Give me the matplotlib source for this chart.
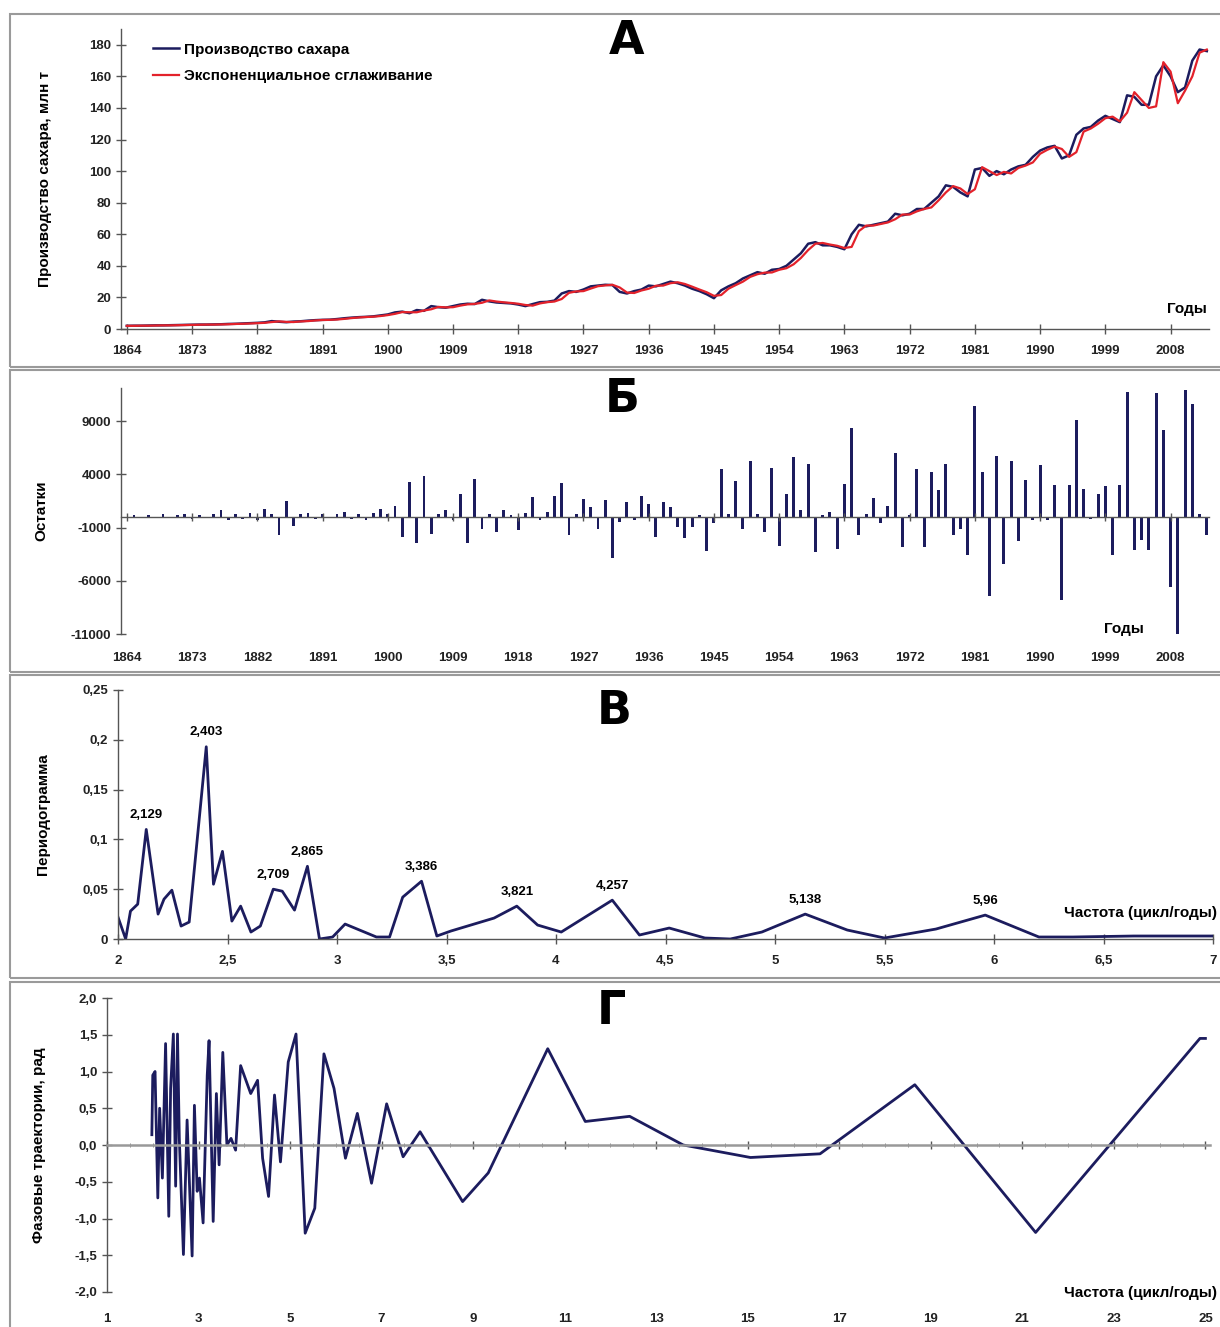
import matplotlib
matplotlib.use("Agg")
import matplotlib.pyplot as plt
from matplotlib.ticker import FixedLocator, MultipleLocator

plt.rcParams['font.family'] = ['Liberation Sans', 'DejaVu Sans']
plt.rcParams['font.weight'] = 'bold'

W, H = 1220, 1327

# ---- data -------------------------------------------------------------
years = list(range(1864, 2014))

production = [
    2.0, 2.1, 2.1, 2.2, 2.3, 2.3, 2.4, 2.5, 2.6, 2.7,
    2.8, 2.8, 2.9, 3.0, 3.2, 3.3, 3.5, 3.7, 3.9, 4.2,
    5.0, 4.6, 4.3, 4.7, 4.9, 5.3, 5.6, 5.8, 5.9, 6.3,
    6.8, 7.2, 7.5, 7.7, 8.0, 8.6, 9.2, 10.5, 11.0, 10.0,
    12.0, 11.5, 14.5, 13.8, 13.5, 14.5, 15.5, 16.0, 15.8, 18.5,
    17.5, 16.8, 16.5, 16.2, 15.5, 14.5, 15.8, 17.0, 17.2, 18.0,
    22.5, 24.0, 23.5, 25.0, 27.0, 27.5, 28.0, 27.8, 23.5, 22.5,
    24.0, 25.0, 27.5, 27.0, 28.5, 30.0, 29.0, 27.5, 25.5, 24.0,
    22.0, 19.5, 24.5, 27.0, 29.0, 32.0, 34.0, 36.0, 35.0, 37.5,
    38.0, 40.0, 44.0, 48.0, 54.0, 55.0, 53.0, 53.0, 52.0, 50.5,
    60.0, 66.0, 65.0, 66.0, 67.0, 68.0, 73.0, 72.0, 73.0, 76.0,
    76.0, 80.0, 84.0, 91.0, 90.0, 86.5, 84.0, 101.0, 102.0, 97.0,
    100.0, 98.0, 101.0, 103.0, 104.0, 109.0, 113.0, 115.0, 116.0, 108.0,
    110.0, 123.0, 127.0, 128.0, 132.0, 135.0, 133.0, 131.0, 148.0, 147.0,
    142.0, 142.0, 160.0, 167.0, 160.0, 150.0, 153.0, 170.0, 177.0, 176.0,
]

smoothed = [
    2.0, 2.0, 2.1, 2.1, 2.2, 2.3, 2.3, 2.4, 2.5, 2.6,
    2.7, 2.8, 2.8, 2.9, 3.0, 3.2, 3.3, 3.5, 3.7, 3.9,
    4.4, 4.8, 4.5, 4.4, 4.8, 5.0, 5.4, 5.7, 5.8, 6.0,
    6.4, 6.9, 7.3, 7.6, 7.8, 8.2, 8.8, 9.6, 10.7, 10.6,
    10.6, 11.7, 12.5, 14.0, 13.7, 13.8, 14.8, 15.6, 15.9, 16.6,
    18.1, 17.4, 16.9, 16.5, 16.0, 15.2, 14.8, 16.2, 17.0, 17.4,
    19.0, 22.9, 23.8, 24.0, 25.6, 27.1, 27.6, 28.0, 26.3, 23.1,
    22.8, 24.4, 25.5, 27.4, 27.5, 29.0, 29.6, 28.5, 26.8, 25.0,
    23.3, 21.0, 21.5, 25.5, 27.8, 30.0, 33.0, 34.7, 35.7, 35.8,
    37.5, 38.5, 41.0, 45.0, 50.0, 54.0, 54.5, 53.5, 52.7, 51.3,
    52.0, 62.0, 65.5, 65.5, 66.5, 67.5, 69.5, 72.5, 72.5, 74.5,
    76.0, 77.0, 81.5, 86.5, 90.5, 89.0, 85.5, 88.5, 102.5, 100.0,
    97.5, 99.5, 98.5, 102.0, 103.5, 105.5, 111.0, 113.5, 115.5, 114.0,
    109.0, 112.0, 125.0, 127.0, 130.0, 133.5, 134.5, 131.5, 137.0, 150.0,
    145.0, 140.0, 141.0, 169.0, 163.0, 143.0, 151.0, 160.0, 175.0, 177.0,
]

residuals = [
    0, 150, -100, 200, -150, 250, -100, 150, 300, -200,
    200, -150, 250, 600, -250, 300, -200, 400, -300, 700,
    300, -1700, 1500, -900, 300, 400, -200, 300, -150, 250,
    500, -200, 300, -250, 400, 700, 300, 1000, -1900, 3250,
    -2500, 3800, -1600, 300, 600, -300, 2150, -2500, 3600, -1100,
    300, -1400, 600, 200, -1250, 400, 1850, -300, 500, 2000,
    3150, -1700, 300, 1700, 900, -1100, 1600, -3900, -500, 1400,
    -300, 2000, 1250, -1850, 1400, 900, -950, -2000, -950, 200,
    -3200, -600, 4500, 300, 3350, -1100, 5200, 300, -1400, 4600,
    -2700, 2150, 5600, 600, 5000, -3300, 200, 450, -3000, 3100,
    8350, -1700, 300, 1800, -600, 1000, 6000, -2850, 200, 4500,
    -2850, 4200, 2500, 5000, -1700, -1100, -3600, 10400, 4200, -7400,
    5750, -4400, 5200, -2300, 3450, -300, 4850, -300, 2950, -7850,
    2950, 9100, 2600, -200, 2150, 2900, -3600, 2950, 11700, -3150,
    -2200, -3150, 11600, 8150, -6600, -11100, 11900, 10600, 300, -1700,
]

freq = [2.0, 2.035, 2.057, 2.09, 2.129, 2.183, 2.21, 2.246, 2.288, 2.325,
        2.403, 2.436, 2.477, 2.52, 2.56, 2.607, 2.65, 2.709, 2.75, 2.806,
        2.865, 2.92, 2.98, 3.037, 3.18, 3.24, 3.30, 3.386, 3.456, 3.52,
        3.717, 3.821, 3.916, 4.024, 4.257, 4.381, 4.517, 4.68, 4.796, 4.94,
        5.138, 5.33, 5.50, 5.735, 5.96, 6.205, 6.36, 6.638, 7.0]
periodogram = [0.022, 0.0, 0.028, 0.035, 0.110, 0.025, 0.040, 0.049, 0.013, 0.017,
               0.193, 0.055, 0.088, 0.018, 0.033, 0.007, 0.013, 0.050, 0.048, 0.029,
               0.073, 0.0, 0.002, 0.015, 0.002, 0.002, 0.042, 0.058, 0.003, 0.008,
               0.021, 0.033, 0.014, 0.007, 0.039, 0.004, 0.011, 0.001, 0.0, 0.007,
               0.025, 0.009, 0.001, 0.010, 0.024, 0.002, 0.002, 0.003, 0.003]
peak_freqs = [2.129, 2.403, 2.709, 2.865, 3.386, 3.821, 4.257, 5.138, 5.96]

phase_x = [1.98, 2.0, 2.05, 2.11, 2.15, 2.21, 2.28, 2.35, 2.39, 2.45,
           2.50, 2.54, 2.58, 2.67, 2.75, 2.86, 2.91, 2.97, 3.02, 3.10,
           3.19, 3.23, 3.32, 3.39, 3.45, 3.53, 3.62, 3.71, 3.81, 3.92,
           4.14, 4.29, 4.40, 4.53, 4.66, 4.79, 4.96, 5.13, 5.33, 5.54,
           5.74, 5.96, 6.21, 6.47, 6.78, 7.11, 7.47, 7.84, 8.77, 9.33,
           10.63, 11.45, 12.42, 13.59, 15.06, 16.58, 18.65, 21.29, 24.88, 25.0]
phase_y = [0.14, 0.95, 1.0, -0.72, 0.5, -0.45, 1.38, -0.97, 0.77, 1.51,
           -0.56, 1.51, 0.09, -1.49, 0.34, -1.51, 0.54, -0.63, -0.45, -1.06,
           0.95, 1.42, -1.04, 0.7, -0.27, 1.26, 0.0, 0.09, -0.07, 1.08,
           0.7, 0.88, -0.18, -0.7, 0.68, -0.23, 1.13, 1.51, -1.2, -0.86,
           1.24, 0.77, -0.18, 0.43, -0.52, 0.56, -0.16, 0.18, -0.77, -0.38,
           1.31, 0.32, 0.39, 0.0, -0.17, -0.12, 0.82, -1.19, 1.45, 1.45]

year_ticks = list(range(1864, 2009, 9))
freq_ticks = [2, 2.5, 3, 3.5, 4, 4.5, 5, 5.5, 6, 6.5, 7]
phase_ticks = list(range(1, 26, 2))

NAVY = '#1c1c5e'
RED = '#e3222b'
TICK_FS = 9.5
LABEL_FS = 11


def comma(v):
    return f"{v:g}".replace('.', ',')


def px_axes(x0, y_top, x1, y_bot):
    return [x0 / W, 1 - y_bot / H, (x1 - x0) / W, (y_bot - y_top) / H]


def style(ax):
    for s in ('top', 'right'):
        ax.spines[s].set_visible(False)
    for s in ('left', 'bottom'):
        ax.spines[s].set_color('#555555')
        ax.spines[s].set_linewidth(1.0)
    ax.tick_params(direction='inout', length=7, width=1, color='#555555',
                   labelsize=TICK_FS, labelcolor='#222222')
    for lab in ax.get_xticklabels() + ax.get_yticklabels():
        lab.set_fontweight('bold')


fig = plt.figure(figsize=(W / 100, H / 100), dpi=100)

# panel frames
for y0, y1 in [(14, 367), (370, 672), (675, 978), (982, 1330)]:
    fig.add_artist(plt.Rectangle((10 / W, 1 - y1 / H), 1.2, (y1 - y0) / H,
                                 transform=fig.transFigure, fill=False,
                                 ec='#9a9a9a', lw=1.5))

# ---- A ---------------------------------------------------------------
ax1 = fig.add_axes(px_axes(121, 29, 1209, 329))
ax1.plot(years, production, color=NAVY, lw=1.8, label='Производство сахара')
ax1.plot(years, smoothed, color=RED, lw=1.6, label='Экспоненциальное сглаживание')
ax1.set_xlim(1863.2, 2013.3)
ax1.set_ylim(0, 190)
ax1.set_xticks(year_ticks)
ax1.set_yticks(range(0, 181, 20))
style(ax1)
ax1.tick_params(axis='x', pad=8)
ax1.set_ylabel('Производство сахара, млн т', fontsize=LABEL_FS, fontweight='bold')
ax1.yaxis.set_label_coords(-0.063, 0.5)
ax1.legend(loc='upper left', bbox_to_anchor=(0.017, 1.0), frameon=False,
           handlelength=1.7, handletextpad=0.3, labelspacing=0.8,
           prop={'size': LABEL_FS, 'weight': 'bold'})
ax1.text(0.998, 0.065, 'Годы', transform=ax1.transAxes, ha='right', va='center',
         fontsize=LABEL_FS, fontweight='bold')

# ---- Б ---------------------------------------------------------------
ax2 = fig.add_axes(px_axes(121, 388, 1209, 634))
ax2.bar(years, residuals, width=0.4, color=NAVY)
ax2.set_xlim(1863.2, 2013.3)
ax2.set_ylim(-11000, 12100)
yt2 = [-11000, -6000, -1000, 4000, 9000]
ax2.yaxis.set_major_locator(FixedLocator(yt2))
ax2.set_yticklabels([str(v) for v in yt2])
ax2.spines['bottom'].set_position(('data', 0))
ax2.set_xticks(year_ticks)
style(ax2)
ax2.tick_params(axis='x', labelbottom=False, length=6)
sec2 = ax2.secondary_xaxis('bottom')
sec2.set_xticks(year_ticks)
sec2.spines['bottom'].set_visible(False)
sec2.tick_params(length=0, pad=13, labelsize=TICK_FS, labelcolor='#222222')
for lab in sec2.get_xticklabels():
    lab.set_fontweight('bold')
ax2.set_ylabel('Остатки', fontsize=LABEL_FS, fontweight='bold')
ax2.yaxis.set_label_coords(-0.067, 0.5)
ax2.text(0.94, 0.02, 'Годы', transform=ax2.transAxes, ha='right', va='center',
         fontsize=LABEL_FS, fontweight='bold')

# ---- В ---------------------------------------------------------------
ax3 = fig.add_axes(px_axes(118, 690, 1213, 939))
ax3.plot(freq, periodogram, color=NAVY, lw=2)
ax3.set_xlim(2, 7)
ax3.set_ylim(0, 0.25)
ax3.set_xticks(freq_ticks)
ax3.set_xticklabels([comma(v) for v in freq_ticks])
yt3 = [0, 0.05, 0.1, 0.15, 0.2, 0.25]
ax3.set_yticks(yt3)
ax3.set_yticklabels([comma(v) for v in yt3])
style(ax3)
ax3.tick_params(axis='x', pad=8)
for pf in peak_freqs:
    i = freq.index(pf)
    ax3.annotate(comma(pf), (freq[i], periodogram[i]), xytext=(0, 6),
                 textcoords='offset points', ha='center', va='bottom',
                 fontsize=9.5, fontweight='bold')
ax3.set_ylabel('Периодограмма', fontsize=LABEL_FS, fontweight='bold')
ax3.yaxis.set_label_coords(-0.062, 0.5)
fig.text(1217 / W, 1 - 913 / H, 'Частота (цикл/годы)', ha='right', va='center',
         fontsize=LABEL_FS, fontweight='bold')

# ---- Г ---------------------------------------------------------------
ax4 = fig.add_axes(px_axes(107, 998, 1210, 1292))
ax4.plot(phase_x, phase_y, color=NAVY, lw=2)
ax4.set_xlim(1, 25.1)
ax4.set_ylim(-2, 2)
yt4 = [-2, -1.5, -1, -0.5, 0, 0.5, 1, 1.5, 2]
ax4.set_yticks(yt4)
ax4.set_yticklabels([f"{v:.1f}".replace('.', ',') for v in yt4])
ax4.spines['bottom'].set_position(('data', 0))
ax4.set_xticks(phase_ticks)
ax4.xaxis.set_minor_locator(MultipleLocator(0.5))
style(ax4)
ax4.spines['bottom'].set_color('#999999')
ax4.spines['bottom'].set_linewidth(1.8)
ax4.tick_params(axis='x', labelbottom=False, length=6)
ax4.tick_params(axis='x', which='minor', direction='inout', length=3, color='#777777')
sec4 = ax4.secondary_xaxis('bottom')
sec4.set_xticks(phase_ticks)
sec4.spines['bottom'].set_visible(False)
sec4.tick_params(length=0, pad=15, labelsize=TICK_FS, labelcolor='#222222')
for lab in sec4.get_xticklabels():
    lab.set_fontweight('bold')
ax4.set_ylabel('Фазовые траектории, рад', fontsize=LABEL_FS, fontweight='bold')
ax4.yaxis.set_label_coords(-0.055, 0.5)
fig.text(1217 / W, 1 - 1293 / H, 'Частота (цикл/годы)', ha='right', va='center',
         fontsize=LABEL_FS, fontweight='bold')

# panel letters
for letter, x, y in [('А', 627, 42), ('Б', 622, 400), ('В', 614, 712), ('Г', 611, 1012)]:
    fig.text(x / W, 1 - y / H, letter, ha='center', va='center', fontsize=33,
             fontweight='heavy', family='DejaVu Sans')

fig.savefig('out.png', dpi=100)
